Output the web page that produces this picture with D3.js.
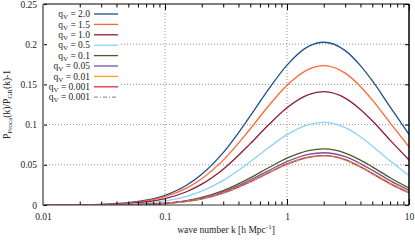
<!DOCTYPE html>
<html>
<head>
<meta charset="utf-8">
<script src="https://cdn.jsdelivr.net/npm/d3@7"></script>
<style>
  body { margin: 0; background: #fff; }
  svg { display: block; font-family: 'Liberation Serif', 'DejaVu Serif', serif; }
</style>
</head>
<body>
<svg id="chart" width="415" height="240"></svg>
<script>
const kValues = [0.01, 0.02, 0.03, 0.05, 0.07, 0.1, 0.15, 0.2, 0.3, 0.5, 0.7, 1, 1.5, 2, 3, 4, 5, 7, 10];

const qv20 = [0.0000, 0.0003, 0.0008, 0.0028, 0.0059, 0.0120, 0.0245, 0.0382, 0.0652, 0.1107, 0.1431, 0.1740, 0.1972, 0.2024, 0.1920, 0.1734, 0.1546, 0.1221, 0.0879];
const qv15 = [0.0000, 0.0002, 0.0007, 0.0024, 0.0051, 0.0103, 0.0210, 0.0327, 0.0558, 0.0948, 0.1225, 0.1490, 0.1688, 0.1733, 0.1640, 0.1474, 0.1307, 0.1021, 0.0724];
const qv10 = [0.0000, 0.0002, 0.0005, 0.0018, 0.0039, 0.0080, 0.0165, 0.0259, 0.0446, 0.0763, 0.0991, 0.1210, 0.1373, 0.1410, 0.1330, 0.1188, 0.1047, 0.0807, 0.0560];
const qv05 = [0.0000, 0.0001, 0.0003, 0.0011, 0.0023, 0.0050, 0.0107, 0.0172, 0.0306, 0.0539, 0.0709, 0.0875, 0.1000, 0.1028, 0.0962, 0.0848, 0.0735, 0.0549, 0.0365];
const qv01 = [0.0000, 0.0000, 0.0001, 0.0004, 0.0010, 0.0024, 0.0055, 0.0094, 0.0179, 0.0338, 0.0460, 0.0582, 0.0676, 0.0697, 0.0646, 0.0559, 0.0474, 0.0339, 0.0211];
const qv005 = [0.0000, 0.0000, 0.0001, 0.0003, 0.0009, 0.0021, 0.0049, 0.0084, 0.0163, 0.0310, 0.0425, 0.0540, 0.0630, 0.0650, 0.0601, 0.0515, 0.0434, 0.0304, 0.0185];
const qv001 = [0.0000, 0.0000, 0.0001, 0.0003, 0.0007, 0.0018, 0.0044, 0.0077, 0.0150, 0.0291, 0.0401, 0.0512, 0.0598, 0.0618, 0.0567, 0.0480, 0.0398, 0.0272, 0.0159];
const qv0001 = [0.0000, 0.0000, 0.0001, 0.0003, 0.0007, 0.0018, 0.0044, 0.0076, 0.0149, 0.0288, 0.0397, 0.0508, 0.0593, 0.0613, 0.0561, 0.0473, 0.0390, 0.0263, 0.0152];
const qv0001b = [0.0000, 0.0000, 0.0001, 0.0003, 0.0007, 0.0018, 0.0043, 0.0075, 0.0148, 0.0287, 0.0396, 0.0507, 0.0592, 0.0612, 0.0560, 0.0472, 0.0389, 0.0262, 0.0151];

const seriesLabels = ['2.0', '1.5', '1.0', '0.5', '0.1', '0.05', '0.01', '0.001', '0.001'];
const seriesValues = [qv20, qv15, qv10, qv05, qv01, qv005, qv001, qv0001, qv0001b];
const seriesColors = ['#1f4f8c', '#ff6633', '#8b1a3c', '#8fd0ff', '#4f5a26', '#7a4f9e', '#ffa020', '#e8283a', '#999999'];
const seriesDash = [null, null, null, null, null, null, null, null, '4,2,1,2'];

const yTicks = [0, 0.05, 0.1, 0.15, 0.2, 0.25];
const xTicks = [0.01, 0.1, 1, 10];

const margin = { top: 4, right: 6, bottom: 35, left: 43 };
const width = 415, height = 240;
const innerWidth = width - margin.left - margin.right;
const innerHeight = height - margin.top - margin.bottom;

const svg = d3.select('#chart');
const grp = svg.append('g').attr('transform', 'translate(' + margin.left + ',' + margin.top + ')');

const xScale = d3.scaleLog().domain([0.01, 10]).range([0, innerWidth]);
const yScale = d3.scaleLinear().domain([0, 0.25]).range([innerHeight, 0]);

// grid
grp.append('g').selectAll('line')
  .data(yTicks.filter((d) => d > 0 && d < 0.25))
  .enter().append('line')
  .attr('x1', 0).attr('x2', innerWidth)
  .attr('y1', (d) => yScale(d)).attr('y2', (d) => yScale(d))
  .attr('stroke', '#777').attr('stroke-width', 0.8).attr('stroke-dasharray', '1,2');
grp.append('g').selectAll('line')
  .data([0.1, 1])
  .enter().append('line')
  .attr('x1', (d) => xScale(d)).attr('x2', (d) => xScale(d))
  .attr('y1', 0).attr('y2', innerHeight)
  .attr('stroke', '#777').attr('stroke-width', 0.8).attr('stroke-dasharray', '1,2');

// curves
const line = d3.line()
  .x((d) => xScale(d[0]))
  .y((d) => yScale(d[1]))
  .curve(d3.curveMonotoneX);

grp.append('defs').append('clipPath').attr('id', 'clip')
  .append('rect').attr('width', innerWidth).attr('height', innerHeight);

const curves = grp.append('g').attr('clip-path', 'url(#clip)');
seriesValues.forEach((vals, i) => {
  curves.append('path')
    .datum(kValues.map((k, j) => [k, vals[j]]))
    .attr('fill', 'none')
    .attr('stroke', seriesColors[i])
    .attr('stroke-width', 1.3)
    .attr('stroke-dasharray', seriesDash[i])
    .attr('d', line);
});

// legend (white box hides grid)
const legend = grp.append('g');
legend.append('rect').attr('x', 1).attr('y', 1).attr('width', 77).attr('height', 98).attr('fill', '#fff');
seriesLabels.forEach((lab, i) => {
  const y = 10 + i * 10.4;
  const t = legend.append('text')
    .attr('x', 47).attr('y', y + 3.2)
    .attr('text-anchor', 'end')
    .attr('font-size', 9.5).attr('fill', '#222');
  t.append('tspan').text('q');
  t.append('tspan').attr('font-size', 7).attr('dy', 2).text('V');
  t.append('tspan').attr('dy', -2).text(' = ' + lab);
  legend.append('line')
    .attr('x1', 51).attr('x2', 75).attr('y1', y).attr('y2', y)
    .attr('stroke', seriesColors[i]).attr('stroke-width', 1.3)
    .attr('stroke-dasharray', seriesDash[i]);
});

// axes
const yAxisL = d3.axisLeft(yScale).tickValues(yTicks).tickSize(-4).tickPadding(6)
  .tickFormat((d) => d3.format('~g')(d));
grp.append('g').call(yAxisL)
  .call((g) => g.select('.domain').remove())
  .call((g) => g.selectAll('text').attr('font-size', 9.5).attr('font-family', 'Liberation Serif').attr('fill', '#222'));
grp.append('g').attr('transform', 'translate(' + innerWidth + ',0)')
  .call(d3.axisRight(yScale).tickValues(yTicks).tickSize(-4).tickFormat(''))
  .call((g) => g.select('.domain').remove());

const minorTicks = [];
[0.01, 0.1, 1].forEach((dec) => { for (let m = 2; m <= 9; m++) minorTicks.push(dec * m); });

grp.append('g').attr('transform', 'translate(0,' + innerHeight + ')')
  .call(d3.axisBottom(xScale).tickValues(xTicks).tickSize(-6).tickPadding(8)
    .tickFormat((d) => d3.format('~g')(d)))
  .call((g) => g.select('.domain').remove())
  .call((g) => g.selectAll('text').attr('font-size', 9.5).attr('font-family', 'Liberation Serif').attr('fill', '#222'));
grp.append('g').attr('transform', 'translate(0,' + innerHeight + ')')
  .call(d3.axisBottom(xScale).tickValues(minorTicks).tickSize(-3.5).tickFormat(''))
  .call((g) => g.select('.domain').remove());
grp.append('g')
  .call(d3.axisTop(xScale).tickValues(xTicks).tickSize(-6).tickFormat(''))
  .call((g) => g.select('.domain').remove());
grp.append('g')
  .call(d3.axisTop(xScale).tickValues(minorTicks).tickSize(-3.5).tickFormat(''))
  .call((g) => g.select('.domain').remove());

// frame
grp.append('line').attr('x1', 0).attr('x2', innerWidth).attr('y1', 0).attr('y2', 0).attr('stroke', '#000');
grp.append('line').attr('x1', innerWidth).attr('x2', innerWidth).attr('y1', 0).attr('y2', innerHeight).attr('stroke', '#000').attr('stroke-width', 1.5);
grp.append('line').attr('x1', 0).attr('x2', innerWidth).attr('y1', innerHeight).attr('y2', innerHeight).attr('stroke', '#333').attr('stroke-width', 1.2);
grp.append('line').attr('x1', 0).attr('x2', 0).attr('y1', 0).attr('y2', innerHeight).attr('stroke', '#888').attr('stroke-width', 2);

// axis titles
const xl = svg.append('text')
  .attr('x', margin.left + innerWidth / 2).attr('y', 233)
  .attr('text-anchor', 'middle').attr('font-size', 9.5).attr('fill', '#222');
xl.append('tspan').text('wave number k [h Mpc');
xl.append('tspan').attr('font-size', 7).attr('dy', -4).text('-1');
xl.append('tspan').attr('dy', 4).text(']');

const yl = svg.append('text')
  .attr('transform', 'translate(10,' + (margin.top + innerHeight / 2) + ') rotate(-90)')
  .attr('text-anchor', 'middle').attr('font-size', 9.5).attr('fill', '#222');
yl.append('tspan').text('P');
yl.append('tspan').attr('font-size', 7).attr('dy', 2).text('Proca');
yl.append('tspan').attr('dy', -2).text('(k)/P');
yl.append('tspan').attr('font-size', 7).attr('dy', 2).text('GR');
yl.append('tspan').attr('dy', -2).text('(k)-1');
</script>
</body>
</html>
